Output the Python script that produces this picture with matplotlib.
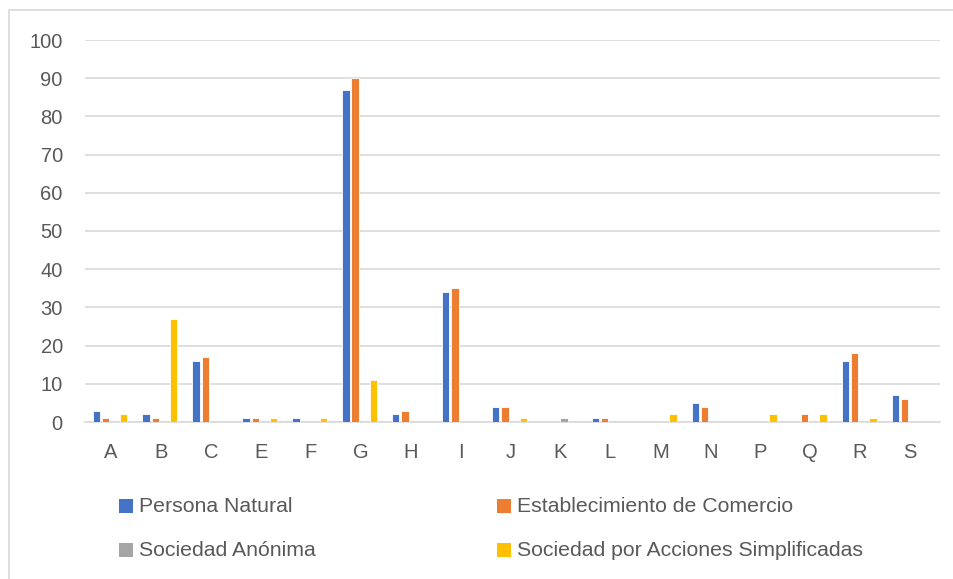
import matplotlib
matplotlib.use("Agg")
import matplotlib.pyplot as plt
from matplotlib.patches import Rectangle
import numpy as np

categories = ["A", "B", "C", "E", "F", "G", "H", "I", "J", "K", "L", "M", "N", "P", "Q", "R", "S"]
persona_natural = [3, 2, 16, 1, 1, 87, 2, 34, 4, 0, 1, 0, 5, 0, 0, 16, 7]
establecimiento = [1, 1, 17, 1, 0, 90, 3, 35, 4, 0, 1, 0, 4, 0, 2, 18, 6]
sociedad_anonima = [0, 0, 0, 0, 0, 0, 0, 0, 0, 1, 0, 0, 0, 0, 0, 0, 0]
sociedad_sas = [2, 27, 0, 1, 1, 11, 0, 0, 1, 0, 0, 2, 0, 2, 2, 1, 0]
series_names = ["Persona Natural", "Establecimiento de Comercio",
                "Sociedad Anónima", "Sociedad por Acciones Simplificadas"]
colors = ["#4472C4", "#ED7D31", "#A5A5A5", "#FFC000"]
yticks = [0, 10, 20, 30, 40, 50, 60, 70, 80, 90, 100]

plt.rcParams['font.family'] = ['Liberation Sans', 'DejaVu Sans']
W, H = 954, 579
fig = plt.figure(figsize=(W / 100, H / 100), dpi=100)
ax = fig.add_axes([85 / W, (H - 422) / H, (940 - 85) / W, (422 - 40) / H])

x = np.arange(len(categories))
step = 0.184
width = 0.146
data = [persona_natural, establecimiento, sociedad_anonima, sociedad_sas]
for i, (vals, c) in enumerate(zip(data, colors)):
    ax.bar(x + (i - 1.5) * step - 0.02, vals, width=width, color=c,
           edgecolor="white", linewidth=0.6, zorder=3)

ax.set_xlim(-0.52, 16.6)
ax.set_ylim(0, 100)
ax.set_yticks(yticks)
ax.set_xticks(x)
ax.set_xticklabels(categories)
ax.grid(axis="y", color="#D9D9D9", linewidth=1.2, zorder=0)
for s in ["top", "right", "left"]:
    ax.spines[s].set_visible(False)
ax.spines["bottom"].set_color("#D9D9D9")
ax.spines["bottom"].set_linewidth(1.2)
ax.tick_params(axis="both", length=0, colors="#595959", labelsize=14.5)
ax.tick_params(axis="y", pad=16)
ax.tick_params(axis="x", pad=15)

# chart border
fig.patches.append(Rectangle((9 / W, -0.1), 1.2, (H - 10) / H + 0.1,
                             transform=fig.transFigure, fill=False,
                             edgecolor="#D9D9D9", linewidth=1.2))

# legend
leg_pos = [(119, 506), (497, 506), (119, 550), (497, 550)]
for name, c, (px, py) in zip(series_names, colors, leg_pos):
    fig.patches.append(Rectangle((px / W, (H - py - 7) / H), 14 / W, 14 / H,
                                 transform=fig.transFigure, facecolor=c,
                                 edgecolor="none"))
    fig.text((px + 20) / W, (H - py) / H, name, color="#595959",
             fontsize=15.3, va="center", ha="left")

fig.savefig("out.png", dpi=100)
